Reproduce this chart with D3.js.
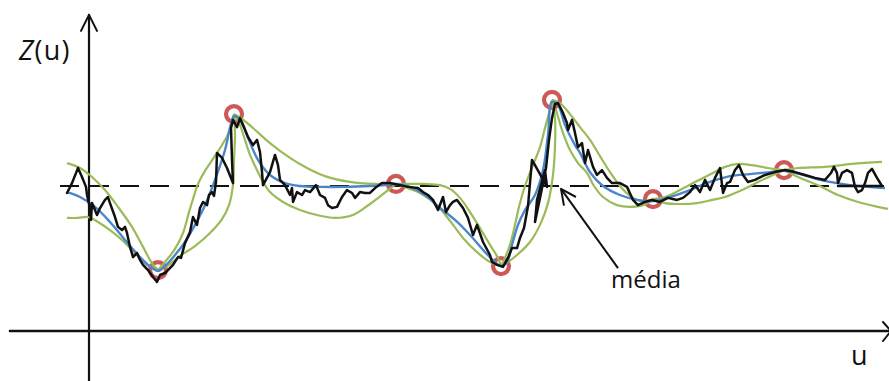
<!DOCTYPE html>
<html>
<head>
<meta charset="utf-8">
<script src="https://cdn.jsdelivr.net/npm/d3@7"></script>
<style>
  html, body { margin: 0; padding: 0; background: #fff; }
  svg { display: block; }
  text { font-family: "Open Sans", "DejaVu Sans", sans-serif; fill: #111; }
</style>
</head>
<body>
<svg id="chart" width="889" height="381"></svg>
<script>
// Sampled locations (u) and values Z(u)
const sampleU = [6.9, 14.5, 30.7, 41.2, 46.3, 56.4, 69.5];
const sampleZ = [2.10, 7.48, 5.07, 2.24, 7.97, 4.55, 5.55];

// Global mean of the field
const meanZ = 5;
const meanLabel = "média";

// Kriging estimate (smooth interpolation through the samples)
const estimate = [
  [-2.2, 4.79], [-0.9, 4.62], [0.6, 4.28], [2.1, 3.76], [3.6, 3.14], [5.1, 2.55],
  [6.3, 2.17], [6.9, 2.07], [7.6, 2.24], [8.6, 2.62], [9.6, 3.07], [10.6, 3.66],
  [11.6, 4.34], [12.6, 5.21], [13.6, 6.24], [14.1, 7.00], [14.5, 7.41], [15.1, 7.28],
  [15.9, 6.66], [16.9, 5.90], [18.1, 5.38], [19.6, 5.10], [21.1, 5.00], [23.1, 4.97],
  [25.6, 4.97], [28.1, 5.00], [29.6, 5.03], [30.7, 5.07], [32.1, 4.97], [33.6, 4.69],
  [35.1, 4.24], [36.6, 3.83], [38.1, 3.31], [39.6, 2.72], [40.6, 2.38], [41.2, 2.24],
  [41.8, 2.38], [42.3, 2.97], [42.9, 3.66], [43.6, 4.17], [44.6, 4.69], [45.4, 5.55],
  [45.9, 6.76], [46.3, 7.90], [46.9, 7.79], [47.6, 7.10], [48.6, 6.41], [49.1, 6.14],
  [50.1, 5.48], [51.4, 5.00], [53.1, 4.69], [54.8, 4.52], [56.4, 4.48], [58.1, 4.62],
  [60.1, 4.86], [62.1, 5.14], [64.1, 5.34], [66.1, 5.41], [68.1, 5.48], [69.5, 5.52],
  [71.1, 5.41], [73.1, 5.21], [76.1, 5.03], [79.6, 4.93]
];

// Envelope of the conditional simulations (first branch)
const envelopeA = [
  [-2.2, 5.79], [-0.9, 5.62], [0.3, 5.31], [1.6, 4.86], [2.9, 4.28], [4.3, 3.59],
  [5.4, 2.90], [6.3, 2.34], [6.9, 2.10],
  [7.6, 2.38], [8.6, 2.83], [9.4, 3.38], [10.0, 4.10], [10.4, 4.55], [10.9, 5.07],
  [11.6, 5.52], [12.8, 6.14], [13.9, 6.79], [14.5, 7.48],
  [15.3, 7.31], [16.4, 7.00], [18.1, 6.48], [20.1, 5.97], [21.8, 5.62], [23.6, 5.34],
  [26.1, 5.14], [28.6, 5.07], [30.7, 5.07],
  [32.1, 5.07], [33.6, 5.07], [35.1, 5.03], [36.1, 4.90], [37.1, 4.59], [38.1, 4.10],
  [39.1, 3.55], [40.1, 2.97], [40.9, 2.52], [41.2, 2.24],
  [41.6, 2.52], [42.1, 2.97], [42.6, 3.66], [43.0, 4.28], [43.6, 5.00], [44.4, 5.72],
  [45.1, 6.34], [45.6, 7.00], [46.0, 7.52], [46.3, 7.97],
  [47.1, 7.86], [48.1, 7.48], [49.1, 7.03], [50.1, 6.59], [51.1, 6.03], [52.1, 5.48],
  [53.1, 5.00], [54.1, 4.66], [55.2, 4.48], [56.4, 4.55],
  [57.6, 4.62], [59.1, 4.86], [60.8, 5.17], [62.4, 5.45], [63.6, 5.66], [64.9, 5.76],
  [66.3, 5.72], [67.9, 5.62], [69.5, 5.55],
  [70.9, 5.62], [73.6, 5.66], [76.3, 5.76], [79.3, 5.83]
];

// Envelope of the conditional simulations (second branch)
const envelopeB = [
  [-2.2, 3.90], [-1.1, 3.90], [-0.1, 3.93], [0.9, 3.76], [2.1, 3.48], [3.3, 3.14],
  [4.6, 2.69], [5.7, 2.31], [6.9, 2.10],
  [7.8, 2.24], [9.1, 2.59], [10.6, 2.93], [12.1, 3.38], [13.3, 3.86], [14.0, 4.34],
  [14.4, 5.03], [14.5, 5.90], [14.6, 6.76], [14.5, 7.48],
  [15.1, 7.10], [15.6, 6.59], [16.1, 6.07], [16.7, 5.62], [17.3, 5.21], [18.1, 4.79],
  [19.4, 4.45], [21.1, 4.17], [22.8, 4.00], [24.6, 3.90], [26.4, 4.00], [28.1, 4.38],
  [29.3, 4.69], [30.7, 5.07],
  [32.1, 4.90], [33.1, 4.76], [34.8, 4.34], [35.8, 3.93], [36.8, 3.48], [37.4, 3.21],
  [38.8, 2.72], [40.1, 2.38], [41.2, 2.24],
  [41.9, 2.38], [42.8, 2.62], [44.1, 3.07], [45.1, 3.66], [45.9, 4.41], [46.4, 5.38],
  [46.6, 6.41], [46.6, 7.34], [46.3, 7.97],
  [46.7, 7.62], [47.3, 6.93], [48.1, 6.24], [48.9, 5.79], [49.8, 5.45], [50.5, 5.00],
  [51.4, 4.62], [52.8, 4.34], [54.1, 4.28], [55.4, 4.34], [56.4, 4.55],
  [57.6, 4.41], [59.1, 4.38], [60.8, 4.41], [62.3, 4.52], [63.6, 4.62], [65.3, 4.86],
  [66.9, 5.14], [68.4, 5.38], [69.5, 5.55],
  [70.9, 5.31], [72.9, 5.03], [74.9, 4.69], [76.9, 4.45], [78.9, 4.28], [79.9, 4.21]
];

// One conditional simulation (rough realisation)
const simulation = [
  [-2.2, 4.76], [-1.7, 5.10], [-1.1, 5.62], [-0.7, 5.31], [-0.3, 4.97], [-0.2, 4.69],
  [0.1, 4.24], [0.2, 3.83], [0.3, 4.41], [0.6, 4.17], [0.8, 4.00], [1.1, 4.24],
  [1.6, 4.52], [1.9, 4.62], [2.1, 4.41], [2.6, 3.93], [2.9, 3.59], [3.3, 3.48],
  [3.6, 3.59], [3.8, 3.38], [4.1, 2.90], [4.4, 2.55], [4.8, 2.69], [5.1, 2.45],
  [5.4, 2.28], [5.9, 2.10], [6.4, 1.86], [6.8, 1.69], [7.1, 1.93], [7.6, 2.00],
  [7.9, 2.10], [8.4, 2.28], [8.9, 2.55], [9.2, 2.52], [9.6, 3.03], [10.1, 3.41],
  [10.4, 3.93], [10.8, 3.66], [11.1, 4.24], [11.4, 4.45], [11.8, 4.34], [12.0, 4.69],
  [12.3, 4.79], [12.5, 4.66], [12.7, 5.14], [12.8, 6.14], [13.3, 5.97], [13.8, 5.62],
  [14.4, 5.10], [14.3, 5.90], [14.2, 7.00], [14.4, 7.28], [14.8, 7.03], [15.1, 7.34],
  [15.5, 7.03], [15.9, 6.69], [16.4, 6.41], [16.8, 6.59], [17.1, 6.17], [17.3, 5.48],
  [17.4, 5.03], [18.1, 5.48], [18.6, 6.07], [18.9, 5.72], [19.1, 5.21], [19.6, 5.03],
  [20.1, 4.69], [20.3, 4.93], [20.4, 4.45], [20.8, 4.79], [21.3, 4.69], [21.6, 4.86],
  [22.1, 4.79], [22.7, 5.03], [23.1, 4.69], [23.6, 4.59], [23.9, 4.34], [24.3, 4.24],
  [24.8, 4.28], [25.3, 4.62], [25.8, 4.86], [26.3, 4.76], [26.6, 4.59], [27.1, 4.79],
  [27.6, 4.76], [28.1, 4.76], [28.6, 4.93], [29.3, 5.10], [30.1, 5.10], [31.1, 5.03],
  [31.9, 4.97], [32.9, 4.93], [33.4, 4.79], [33.9, 4.69], [34.4, 4.52], [34.9, 4.17],
  [35.4, 4.62], [35.7, 4.10], [36.1, 4.34], [36.4, 4.45], [36.8, 4.52], [37.4, 4.24],
  [37.9, 3.90], [38.4, 3.31], [38.8, 3.66], [39.4, 3.07], [40.1, 2.62], [40.3, 2.38],
  [40.8, 2.28], [41.4, 2.21], [41.9, 2.52], [42.3, 2.86], [42.8, 2.86], [43.1, 3.21],
  [43.5, 3.55], [43.9, 4.31], [44.3, 5.90], [45.1, 5.41], [45.8, 4.97], [45.6, 5.55],
  [44.8, 4.52], [44.6, 3.76], [45.1, 4.59], [45.7, 5.62], [46.0, 6.59], [46.3, 7.34],
  [46.6, 7.83], [46.9, 7.86], [47.4, 7.52], [47.8, 7.17], [47.9, 6.93], [48.3, 7.28],
  [48.6, 6.83], [48.9, 6.34], [49.3, 6.48], [49.6, 5.79], [49.9, 6.24], [50.4, 5.66],
  [50.8, 5.38], [51.3, 5.55], [51.8, 5.28], [52.3, 5.10], [53.1, 5.10], [53.8, 4.97],
  [54.4, 4.52], [54.9, 4.34], [55.6, 4.45], [56.3, 4.52], [57.1, 4.45], [57.9, 4.59],
  [58.8, 4.52], [59.4, 4.59], [60.1, 4.79], [60.6, 5.03], [61.1, 4.79], [61.6, 5.21],
  [62.1, 4.86], [62.6, 5.28], [63.1, 5.62], [63.4, 4.76], [63.8, 5.10], [64.1, 5.14],
  [64.6, 5.55], [65.0, 5.72], [65.4, 5.38], [65.9, 5.14], [66.6, 5.21], [67.6, 5.38],
  [68.6, 5.48], [69.6, 5.55], [70.6, 5.48], [71.6, 5.38], [72.6, 5.28], [73.6, 5.21],
  [74.2, 5.45], [74.5, 5.66], [74.8, 5.45], [74.9, 5.10], [75.3, 5.45], [75.8, 5.55],
  [76.3, 5.45], [76.6, 4.97], [76.9, 4.79], [77.3, 4.86], [77.6, 5.10], [77.9, 5.45],
  [78.3, 5.59], [78.8, 5.28], [79.3, 5.00], [74.9, 5.00]
];

// Annotation arrow for the mean: [label end, tip]
const meanArrow = [[52.9, 2.17], [47.2, 4.90]];

const svg = d3.select("#chart");
const W = 889, H = 381;

const x = d3.scaleLinear().domain([-8, 80]).range([9, 889]);
const y = d3.scaleLinear().domain([0, 10]).range([331, 41]);

const line = d3.line().x(d => x(d[0])).y(d => y(d[1]));

// Axes drawn as arrows through the origin
const axes = svg.append("g").attr("stroke", "#111").attr("fill", "none")
  .attr("stroke-linecap", "round").attr("stroke-linejoin", "round");
axes.append("line").attr("x1", x(-7.9)).attr("x2", x(80.1))
  .attr("y1", y(0)).attr("y2", y(0)).attr("stroke-width", 2.6);
axes.append("line").attr("x1", x(0)).attr("x2", x(0))
  .attr("y1", H + 2).attr("y2", y(10.9)).attr("stroke-width", 2.2);
axes.append("path").attr("stroke-width", 2)
  .attr("d", `M${x(0) - 8},${y(10.9) + 16}L${x(0)},${y(10.9)}L${x(0) + 8},${y(10.9) + 16}`);
axes.append("path").attr("stroke-width", 2)
  .attr("d", `M${x(79.4)},${y(0) - 9}L${x(80.2)},${y(0)}L${x(79.4)},${y(0) + 10}`);

// Mean level (dashed)
svg.append("line")
  .attr("x1", x(-2.9)).attr("x2", x(79.5))
  .attr("y1", y(meanZ)).attr("y2", y(meanZ))
  .attr("stroke", "#111").attr("stroke-width", 2)
  .attr("stroke-dasharray", "19,11");

// Sample locations
svg.append("g").selectAll("circle")
  .data(sampleU.map((u, i) => [u, sampleZ[i]]))
  .join("circle")
  .attr("cx", d => x(d[0])).attr("cy", d => y(d[1]))
  .attr("r", 8).attr("fill", "none")
  .attr("stroke", "#c9504e").attr("stroke-width", 4.2).attr("stroke-opacity", 0.95);

// Envelope branches, split at every sample so they pinch through it
function splitAtSamples(pts) {
  const parts = [];
  let cur = [];
  pts.forEach(p => {
    cur.push(p);
    const isKnot = sampleU.some((u, i) => u === p[0] && sampleZ[i] === p[1]);
    if (isKnot && cur.length > 1) { parts.push(cur); cur = [p]; }
  });
  if (cur.length > 1) parts.push(cur);
  return parts;
}
const envLine = d3.line().x(d => x(d[0])).y(d => y(d[1])).curve(d3.curveCatmullRom.alpha(0.5));
const envParts = splitAtSamples(envelopeA).concat(splitAtSamples(envelopeB));
svg.append("g").selectAll("path").data(envParts).join("path")
  .attr("d", envLine).attr("fill", "none")
  .attr("stroke", "#9bbb59").attr("stroke-width", 2.2);

// Kriging estimate
svg.append("path").datum(estimate)
  .attr("d", envLine).attr("fill", "none")
  .attr("stroke", "#4a86c8").attr("stroke-width", 2.4);

// Simulated realisation
svg.append("path").datum(simulation)
  .attr("d", line).attr("fill", "none")
  .attr("stroke", "#111").attr("stroke-width", 2.5)
  .attr("stroke-linejoin", "round").attr("stroke-linecap", "round");

// Mean annotation arrow
const a0 = [x(meanArrow[0][0]), y(meanArrow[0][1])];
const a1 = [x(meanArrow[1][0]), y(meanArrow[1][1])];
svg.append("line").attr("x1", a0[0]).attr("y1", a0[1]).attr("x2", a1[0]).attr("y2", a1[1])
  .attr("stroke", "#111").attr("stroke-width", 2);
const ang = Math.atan2(a0[1] - a1[1], a0[0] - a1[0]);
const hl = 17, hw = 0.45;
svg.append("path").attr("fill", "none").attr("stroke", "#111").attr("stroke-width", 2)
  .attr("stroke-linejoin", "round")
  .attr("d", `M${a1[0] + hl * Math.cos(ang - hw)},${a1[1] + hl * Math.sin(ang - hw)}L${a1[0]},${a1[1]}L${a1[0] + hl * Math.cos(ang + hw)},${a1[1] + hl * Math.sin(ang + hw)}`);

svg.append("text").attr("x", 611).attr("y", 288)
  .attr("font-size", 24).text(meanLabel);

// Axis labels
const zl = svg.append("text").attr("x", 19).attr("y", 60)
  .attr("font-size", 27).attr("letter-spacing", 1.2);
zl.append("tspan").attr("font-style", "italic").text("Z");
zl.append("tspan").text("(u)");
svg.append("text").attr("x", 851).attr("y", 365).attr("font-size", 27).text("u");
</script>
</body>
</html>
